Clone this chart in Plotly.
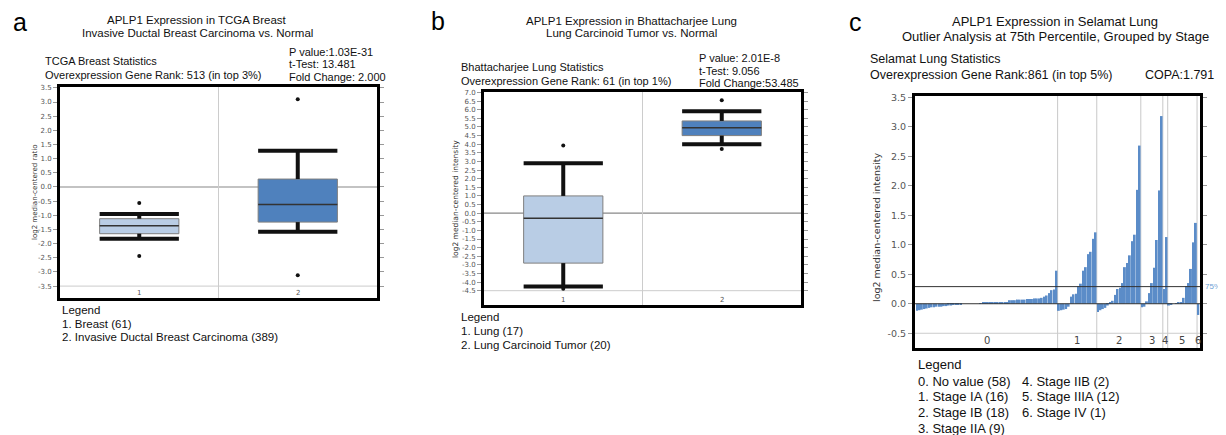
import plotly.graph_objects as go

# page is 1226x435; the html body has an 8px margin, so the figure is placed at (8, 8)
PAGE_W, PAGE_H = 1226, 435
OFF = 8
W, H = PAGE_W - OFF, PAGE_H - OFF
FONT = "Liberation Sans, Arial, sans-serif"
TICKFONT = "DejaVu Sans, Verdana, sans-serif"

# ---------------- data ----------------
# Panel a: TCGA Breast
a_pos = [1, 2]
a_labels = ["1", "2"]
a_q1 = [-1.65, -1.24]
a_med = [-1.37, -0.62]
a_q3 = [-1.12, 0.28]
a_low = [-1.83, -1.58]
a_up = [-0.95, 1.28]
a_out_x = [1, 1, 2, 2]
a_out_y = [-0.57, -2.44, 3.10, -3.12]
a_colors = ["#b9cde5", "#4f81bd"]
a_ticks = [3.5, 3.0, 2.5, 2.0, 1.5, 1.0, 0.5, 0.0, -0.5, -1.0, -1.5, -2.0, -2.5, -3.0, -3.5]
a_ticktext = ["3.5", "3.0", "2.5", "2.0", "1.5", "1.0", "0.5", "0.0", "-0.5", "-1.0", "-1.5",
              "-2.0", "-2.5", "-3.0", "-3.5"]

# Panel b: Bhattacharjee Lung
b_pos = [1, 2]
b_labels = ["1", "2"]
b_q1 = [-2.90, 4.50]
b_med = [-0.30, 4.95]
b_q3 = [1.00, 5.35]
b_low = [-4.25, 4.00]
b_up = [2.90, 5.92]
b_out_x = [1, 1, 2, 2]
b_out_y = [3.93, -4.38, 6.55, 3.72]
b_colors = ["#b9cde5", "#4f81bd"]
b_ticks = [7.0, 6.5, 6.0, 5.5, 5.0, 4.5, 4.0, 3.5, 3.0, 2.5, 2.0, 1.5, 1.0, 0.5, 0.0, -0.5, -1.0,
           -1.5, -2.0, -2.5, -3.0, -3.5, -4.0, -4.5]
b_ticktext = ["7.0", "6.5", "6.0", "5.5", "5.0", "4.5", "4.0", "3.5", "3.0", "2.5", "2.0", "1.5",
              "1.0", "0.5", "0.0", "-0.5", "-1.0", "-1.5", "-2.0", "-2.5", "-3.0", "-3.5", "-4.0", "-4.5"]

# Panel c: Selamat Lung, grouped by stage
c_g0 = [-0.12, -0.11, -0.10, -0.09, -0.08, -0.07, -0.06, -0.06, -0.05, -0.05, -0.05, -0.04,
        -0.04, -0.03, -0.03, -0.02, -0.02, -0.02, -0.01, 0.00, 0.00, 0.00, 0.00, 0.00, 0.00,
        0.00, 0.01, 0.02, 0.02, 0.02, 0.02, 0.02, 0.03, 0.03, 0.03, 0.03, 0.03, 0.03, 0.06,
        0.06, 0.06, 0.07, 0.07, 0.07, 0.07, 0.08, 0.08, 0.08, 0.09, 0.09, 0.09, 0.10, 0.12,
        0.14, 0.18, 0.23, 0.24, 0.56]
c_g1 = [-0.12, -0.11, -0.10, -0.09, -0.05, 0.12, 0.16, 0.17, 0.30, 0.34, 0.56, 0.62, 0.84,
        0.88, 1.10, 1.21]
c_g2 = [-0.14, -0.11, -0.09, -0.07, -0.03, 0.02, 0.05, 0.15, 0.25, 0.27, 0.35, 0.62, 0.69,
        0.82, 1.06, 1.17, 1.93, 2.68]
c_g3 = [-0.06, -0.05, 0.04, 0.18, 0.35, 0.61, 1.08, 1.92, 3.18]
c_g4 = [0.25, 1.13]
c_g5 = [-0.03, -0.02, 0.00, 0.01, 0.02, 0.02, 0.10, 0.30, 0.35, 0.59, 1.04, 1.37]
c_g6 = [-0.19]
c_groups = [c_g0, c_g1, c_g2, c_g3, c_g4, c_g5, c_g6]
c_group_labels = ["0", "1", "2", "3", "4", "5", "6"]
c_pct75 = 0.29
c_ticks = [3.5, 3.0, 2.5, 2.0, 1.5, 1.0, 0.5, 0.0, -0.5]
c_ticktext = ["3.5", "3.0", "2.5", "2.0", "1.5", "1.0", "0.5", "0.0", "-0.5"]
c_legend_col1 = ["0. No value (58)", "1. Stage IA (16)", "2. Stage IB (18)", "3. Stage IIA (9)"]
c_legend_col2 = ["4. Stage IIB (2)", "5. Stage IIIA (12)", "6. Stage IV (1)"]


def px(x):
    return (x - OFF) / W


def py(y):
    return 1 - (y - OFF) / H


fig = go.Figure()
annotations = []
shapes = []


def text(x, y, s, size=11, anchor="left", color="#111", font=FONT, **kw):
    annotations.append(dict(x=px(x), y=py(y), xref="paper", yref="paper", text=s,
                            showarrow=False, xanchor=anchor, yanchor="middle",
                            font=dict(family=font, size=size, color=color), **kw))


def add_boxes(xa, ya, pos, q1, med, q3, low, up, out_x, out_y, colors):
    hw = 0.25
    for i, p in enumerate(pos):
        fig.add_trace(go.Bar(x=[p], y=[q3[i] - q1[i]], base=[q1[i]], width=2 * hw,
                             marker=dict(color=colors[i], line=dict(color="#7f7f7f", width=1)),
                             xaxis=xa, yaxis=ya, showlegend=False))
        fig.add_trace(go.Scatter(x=[p, p, None, p, p], y=[q3[i], up[i], None, q1[i], low[i]],
                                 mode="lines", line=dict(color="#111", width=4),
                                 xaxis=xa, yaxis=ya, showlegend=False))
        fig.add_trace(go.Scatter(x=[p - hw, p + hw, None, p - hw, p + hw],
                                 y=[up[i], up[i], None, low[i], low[i]],
                                 mode="lines", line=dict(color="#111", width=4),
                                 xaxis=xa, yaxis=ya, showlegend=False))
        fig.add_trace(go.Scatter(x=[p - hw, p + hw], y=[med[i], med[i]], mode="lines",
                                 line=dict(color="#333", width=1.5),
                                 xaxis=xa, yaxis=ya, showlegend=False))
    fig.add_trace(go.Scatter(x=out_x, y=out_y, mode="markers",
                             marker=dict(color="#111", size=4),
                             xaxis=xa, yaxis=ya, showlegend=False))


add_boxes("x", "y", a_pos, a_q1, a_med, a_q3, a_low, a_up, a_out_x, a_out_y, a_colors)
add_boxes("x2", "y2", b_pos, b_q1, b_med, b_q3, b_low, b_up, b_out_x, b_out_y, b_colors)

# panel c bars
c_vals = [v for g in c_groups for v in g]
c_x = list(range(len(c_vals)))
fig.add_trace(go.Bar(x=c_x, y=c_vals, marker=dict(color="#5b8cc8", line=dict(width=0)),
                     xaxis="x3", yaxis="y3", showlegend=False))

# ---- reference lines for box panels ----
for xr, yr, bottom_tick, labels, pos, lab_y in [("x", "y", -3.5, a_labels, a_pos, 293),
                                                ("x2", "y2", -4.5, b_labels, b_pos, 300)]:
    shapes.append(dict(type="line", xref=xr + " domain", yref=yr, x0=0, x1=1, y0=0, y1=0,
                       line=dict(color="#888", width=1.2), layer="below"))
    shapes.append(dict(type="line", xref=xr + " domain", yref=yr, x0=0, x1=1,
                       y0=bottom_tick, y1=bottom_tick, line=dict(color="#ccc", width=1), layer="below"))
    shapes.append(dict(type="line", xref=xr, yref=yr + " domain", x0=1.5, x1=1.5, y0=0, y1=1,
                       line=dict(color="#ccc", width=1), layer="below"))
    for p, l in zip(pos, labels):
        annotations.append(dict(x=p, y=py(lab_y), xref=xr, yref="paper", text=l, showarrow=False,
                                xanchor="center", yanchor="middle",
                                font=dict(family=TICKFONT, size=7, color="#555")))

# ---- panel c lines & group labels ----
start = 0
for gi, g in enumerate(c_groups):
    end = start + len(g)
    center = (start + end - 1) / 2
    annotations.append(dict(x=center, y=-0.63, xref="x3", yref="y3", text=c_group_labels[gi],
                            showarrow=False, xanchor="center", yanchor="middle",
                            font=dict(family=TICKFONT, size=10, color="#444")))
    if gi < len(c_groups) - 1:
        shapes.append(dict(type="line", xref="x3", yref="y3 domain", x0=end - 0.5, x1=end - 0.5,
                           y0=0, y1=1, line=dict(color="#c8c8c8", width=1), layer="below"))
    start = end
shapes.append(dict(type="line", xref="x3 domain", yref="y3", x0=0, x1=1, y0=-0.5, y1=-0.5,
                   line=dict(color="#ccc", width=1), layer="below"))
shapes.append(dict(type="line", xref="x3 domain", yref="y3", x0=0, x1=1, y0=0, y1=0,
                   line=dict(color="#333", width=1)))
shapes.append(dict(type="line", xref="x3 domain", yref="y3", x0=0, x1=1, y0=c_pct75, y1=c_pct75,
                   line=dict(color="#333", width=1)))
annotations.append(dict(x=px(1203), y=c_pct75, xref="paper", yref="y3", text="75%",
                        showarrow=False, xanchor="left", yanchor="middle",
                        font=dict(family=FONT, size=8, color="#6d9fd6")))

# ---------------- texts ----------------
# panel letters
text(20, 22, "a", size=25, anchor="center", color="#000")
text(438, 21, "b", size=25, anchor="center", color="#000")
text(855, 22, "c", size=25, anchor="center", color="#000")

# panel a
text(197, 20, "APLP1 Expression in TCGA Breast", size=11.5, anchor="center")
text(197, 33, "Invasive Ductal Breast Carcinoma vs. Normal", size=11.5, anchor="center")
text(43, 60.5, "TCGA Breast Statistics", size=11)
text(43, 75, "Overexpression Gene Rank: 513 (in top 3%)", size=11)
text(287, 51.5, "P value:1.03E-31", size=11)
text(287, 64, "t-Test: 13.481", size=11)
text(287, 77, "Fold Change: 2.000", size=11)
text(60, 310, "Legend", size=11.5)
text(60, 323.5, "1. Breast (61)", size=11.5)
text(60, 337, "2. Invasive Ductal Breast Carcinoma (389)", size=11.5)
text(35, 192, "log2 median-centered ratio", size=7, anchor="center", textangle=-90,
     font=TICKFONT, color="#333")

# panel b
text(631, 21, "APLP1 Expression in Bhattacharjee Lung", size=11.5, anchor="center")
text(631, 33, "Lung Carcinoid Tumor vs. Normal", size=11.5, anchor="center")
text(459, 66.5, "Bhattacharjee Lung Statistics", size=11)
text(459, 81, "Overexpression Gene Rank: 61 (in top 1%)", size=11)
text(697, 57.5, "P value: 2.01E-8", size=11)
text(697, 70.5, "t-Test: 9.056", size=11)
text(697, 83, "Fold Change:53.485", size=11)
text(459, 317, "Legend", size=11.5)
text(459, 331, "1. Lung (17)", size=11.5)
text(459, 345, "2. Lung Carcinoid Tumor (20)", size=11.5)
text(455, 199, "log2 median-centered intensity", size=7.5, anchor="center", textangle=-90,
     font=TICKFONT, color="#333")

# panel c
text(1055, 21, "APLP1 Expression in Selamat Lung", size=13, anchor="center")
text(1055, 37, "Outlier Analysis at 75th Percentile, Grouped by Stage", size=13, anchor="center")
text(868, 59, "Selamat Lung Statistics", size=12.5)
text(868, 74.5, "Overexpression Gene Rank:861 (in top 5%)", size=12.5)
text(1143, 74.5, "COPA:1.791", size=12.5)
text(876, 228, "log2 median-centered intensity", size=9.5, anchor="center", textangle=-90,
     font=TICKFONT, color="#333")
text(916, 364, "Legend", size=13)
for i, s in enumerate(c_legend_col1):
    text(916, 381 + i * 15.7, s, size=13)
for i, s in enumerate(c_legend_col2):
    text(1020, 381 + i * 15.7, s, size=13)


def yax(domain, rng, ticks, ticktext, size):
    return dict(domain=domain, range=rng, tickmode="array", tickvals=ticks, ticktext=ticktext,
                showgrid=False, zeroline=False, showline=True, linecolor="#000", linewidth=3,
                mirror="ticks", ticks="outside", ticklen=4, tickcolor="#999", tickwidth=1,
                automargin=False,
                tickfont=dict(family=TICKFONT, size=size, color="#555"))


def xax(domain, rng, anchor):
    return dict(domain=domain, range=rng, showgrid=False, zeroline=False, showline=True,
                linecolor="#000", linewidth=3, mirror=True, ticks="", showticklabels=False,
                automargin=False, anchor=anchor)


fig.update_layout(
    template="none",
    width=W, height=H, autosize=False,
    margin=dict(l=0, r=0, t=0, b=0, pad=0),
    paper_bgcolor="white", plot_bgcolor="white",
    showlegend=False, bargap=0.22,
    xaxis=xax([px(60), px(377)], [0.5, 2.5], "y"),
    yaxis=dict(yax([py(298), py(87)], [-3.92, 3.53], a_ticks, a_ticktext, 7), anchor="x"),
    xaxis2=xax([px(484), px(801)], [0.5, 2.5], "y2"),
    yaxis2=dict(yax([py(305), py(92)], [-5.33, 7.03], b_ticks, b_ticktext, 7), anchor="x2"),
    xaxis3=xax([px(915), px(1200)], [-0.8, len(c_vals) - 0.3], "y3"),
    yaxis3=dict(yax([py(348), py(96)], [-0.75, 3.52], c_ticks, c_ticktext, 9.5), anchor="x3"),
    annotations=annotations,
    shapes=shapes,
)

fig.write_html("out.html")
